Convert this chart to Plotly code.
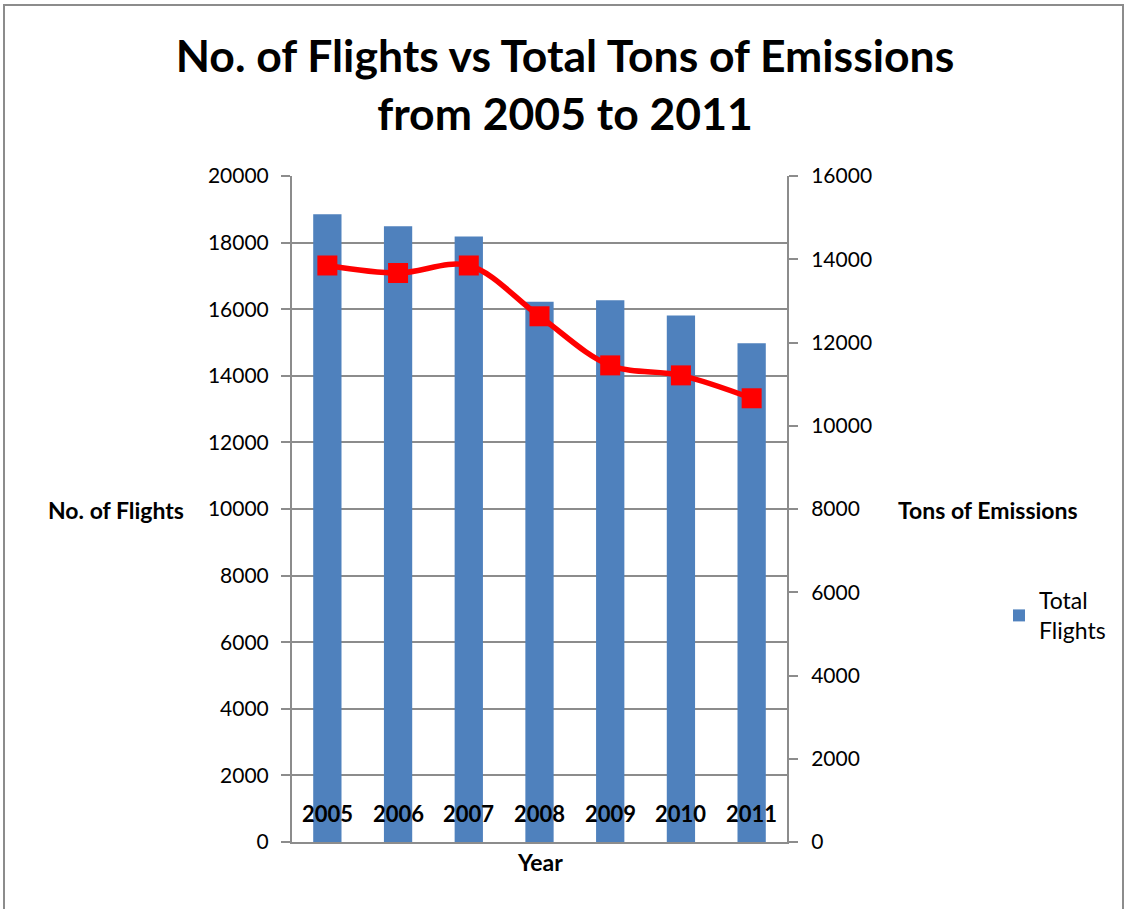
import plotly.graph_objects as go


years = ["2005", "2006", "2007", "2008", "2009", "2010", "2011"]
total_flights = [18850, 18490, 18180, 16220, 16270, 15810, 14980]
tons_emissions = [13850, 13670, 13850, 12630, 11450, 11210, 10660]

left_ticks = [0, 2000, 4000, 6000, 8000, 10000, 12000, 14000, 16000, 18000, 20000]
right_ticks = [0, 2000, 4000, 6000, 8000, 10000, 12000, 14000, 16000]

FONT = "Lato, Carlito, Calibri, sans-serif"
GRID = "#8c8c8c"

# plot area in pixels
W, H = 1127, 909
L, R, T, B = 292, 787, 176, 842


def px_x(x):
    return (x - L) / (R - L)


def px_y(y):
    return (B - y) / (B - T)


fig = go.Figure()

fig.add_trace(
    go.Bar(
        x=years,
        y=total_flights,
        name="Total<br>Flights",
        marker=dict(color="#4f81bd", line=dict(width=0)),
        yaxis="y",
    )
)

fig.add_trace(
    go.Scatter(
        x=years,
        y=tons_emissions,
        mode="lines+markers",
        line=dict(color="#ff0000", width=5.5, shape="spline", smoothing=1),
        marker=dict(symbol="square", size=20, color="#ff0000"),
        yaxis="y2",
        showlegend=False,
    )
)

fig.update_layout(
    width=W,
    height=H,
    margin=dict(l=L, r=W - R, t=T, b=H - B),
    paper_bgcolor="white",
    plot_bgcolor="white",
    font=dict(family=FONT, size=21, color="black"),
    bargap=0.6,
    title=dict(
        text="No. of Flights vs Total Tons of Emissions<br>from 2005 to 2011",
        font=dict(family=FONT, size=44.5, color="black", weight="bold"),
        x=px_x(565),
        xanchor="center",
        xref="paper",
        y=1 - 72 / H,
        yanchor="top",
    ),
    xaxis=dict(
        type="category",
        range=[-0.5, len(years) - 0.5],
        showgrid=False,
        showline=True,
        linecolor=GRID,
        linewidth=2,
        ticks="",
        showticklabels=False,
    ),
    yaxis=dict(
        range=[0, 20000],
        tickvals=left_ticks,
        ticktext=[str(v) for v in left_ticks],
        showgrid=True,
        gridcolor=GRID,
        gridwidth=1.5,
        showline=True,
        linecolor=GRID,
        linewidth=2,
        ticks="outside",
        ticklen=9,
        tickcolor=GRID,
        tickwidth=1.5,
        ticklabelstandoff=8,
        zeroline=False,
        tickfont=dict(family=FONT, size=21, color="black"),
    ),
    yaxis2=dict(
        range=[0, 16000],
        tickvals=right_ticks,
        ticktext=[str(v) for v in right_ticks],
        overlaying="y",
        side="right",
        showgrid=False,
        showline=True,
        linecolor=GRID,
        linewidth=2,
        ticks="outside",
        ticklen=9,
        tickcolor=GRID,
        tickwidth=1.5,
        ticklabelstandoff=9,
        zeroline=False,
        tickfont=dict(family=FONT, size=21, color="black"),
    ),
    legend=dict(
        x=px_x(999),
        y=px_y(579),
        xanchor="left",
        yanchor="top",
        font=dict(family=FONT, size=23, color="black"),
        bgcolor="rgba(0,0,0,0)",
    ),
)

# category labels sit inside the plot, just above the axis
for i, yr in enumerate(years):
    fig.add_annotation(
        text=yr, xref="x", yref="paper",
        x=i, y=px_y(813), xanchor="center", yanchor="middle",
        showarrow=False,
        font=dict(family=FONT, size=22, weight="bold", color="black"),
    )

# axis titles
fig.add_annotation(
    text="No. of Flights", xref="paper", yref="paper",
    x=px_x(116), y=px_y(510), xanchor="center", yanchor="middle",
    showarrow=False,
    font=dict(family=FONT, size=23, weight="bold"),
)
fig.add_annotation(
    text="Tons of Emissions", xref="paper", yref="paper",
    x=px_x(988), y=px_y(510), xanchor="center", yanchor="middle",
    showarrow=False,
    font=dict(family=FONT, size=23, weight="bold"),
)
fig.add_annotation(
    text="Year", xref="paper", yref="paper",
    x=px_x(540), y=px_y(862), xanchor="center", yanchor="middle",
    showarrow=False,
    font=dict(family=FONT, size=23, weight="bold"),
)

# outer chart frame
fig.add_shape(
    type="rect", xref="paper", yref="paper",
    x0=px_x(4), x1=px_x(1123), y0=px_y(930), y1=px_y(5),
    line=dict(color="#8c8c8c", width=2), layer="below",
)

fig.write_html(
    "out.html",
    config={"displayModeBar": False},
    post_script="document.body.style.margin='0';",
)
